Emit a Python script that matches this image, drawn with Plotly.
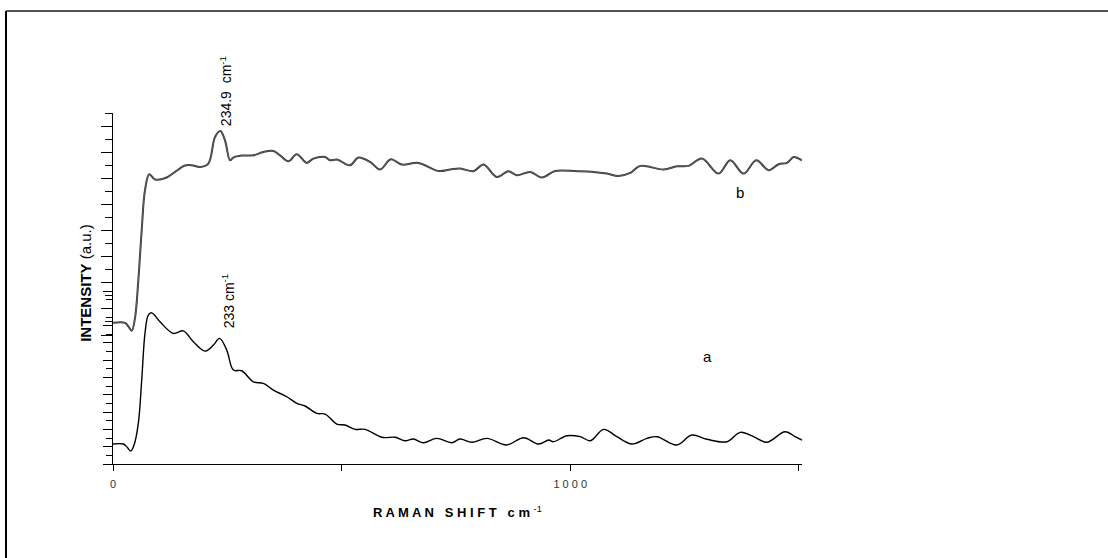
import plotly.graph_objects as go

# Raman shift (cm^-1) and intensities (a.u.)
a_shift = [0, 22.5, 30.6, 38.7, 46, 55.4, 62.8, 70.0, 77.2, 84.7, 102.8, 131.9, 153.8, 175.7,
           201.3, 219.5, 233, 248.8, 263.2, 281.6, 307, 328.9, 350.8, 380.1, 402, 420.1, 445.7,
           463.9, 489.5, 507.7, 529.5, 551.4, 588, 617, 639, 657, 679, 708, 741, 759, 785, 818,
           861, 898, 931, 953, 963, 993, 1022, 1044, 1073, 1102, 1135, 1168, 1190, 1233, 1266,
           1299, 1343, 1372, 1401, 1430, 1470, 1492, 1507]
a_int = [2.31, 2.31, 1.97, 1.50, 2.2, 4.71, 9.71, 15.14, 17.23, 17.49, 16.45, 15.11, 15.41, 14.14,
         13.06, 13.76, 14.53, 13.18, 10.87, 10.79, 9.51, 9.33, 8.55, 7.78, 7.02, 6.71, 5.86,
         5.78, 4.62, 4.51, 4.01, 4.01, 3.09, 3.09, 2.69, 2.89, 2.46, 2.97, 2.46, 2.89, 2.51, 2.97,
         2.20, 3.04, 2.31, 2.77, 2.58, 3.27, 3.16, 2.69, 4.01, 3.16, 2.31, 2.97, 3.16, 2.20, 3.35,
         2.86, 2.58, 3.66, 3.16, 2.51, 3.73, 3.16, 2.77]

b_shift = [0, 26.3, 33.9, 40.9, 48.1, 55.4, 62.8, 70.0, 79.4, 91.9, 117.5, 135.7, 157.5, 172.2,
           190.4, 208.5, 223.2, 234.9, 245, 256, 263.2, 281.6, 307, 328.9, 350.8, 365.4, 383.6,
           402, 423.9, 438.3, 463.9, 474.8, 489.5, 518.6, 536.8, 562.4, 584.2, 607.7, 631.7, 668,
           711.8, 737.4, 759.3, 788.4, 810.3, 839.6, 865, 883.4, 912.5, 938.1, 967.2, 1014.7, 1051,
           1080.3, 1105.7, 1131.3, 1153.2, 1204.2, 1233.5, 1258.9, 1288.2, 1324.5, 1350.1, 1379.2,
           1407, 1434, 1455.8, 1474.2, 1488.6, 1499.6, 1507]
b_int = [0.93, 0.93, 0.64, 0.32, 1.29, 4.20, 8.03, 11.09, 12.31, 11.91, 12.06, 12.49, 12.98, 13.00,
         12.87, 13.13, 15.16, 15.62, 14.91, 13.38, 13.59, 13.74, 13.76, 14.02, 14.09, 13.76, 13.31,
         13.84, 13.18, 13.51, 13.63, 13.38, 13.44, 13.00, 13.59, 13.25, 12.67, 13.46, 13.05, 13.18,
         12.56, 12.67, 12.75, 12.54, 13.05, 12.10, 12.54, 12.23, 12.49, 12.06, 12.56, 12.54, 12.49,
         12.36, 12.18, 12.41, 12.95, 12.67, 12.92, 12.95, 13.51, 12.36, 13.38, 12.36, 13.38, 12.62,
         13.08, 13.18, 13.63, 13.51, 13.38]

x_tickvals = [0, 500, 1000, 1500]
x_ticktext = ["0", "", "1 0 0 0", ""]

peak_a = 233
peak_b = 234.9

FONT = "Liberation Sans, Arial, sans-serif"

fig = go.Figure()
fig.add_trace(go.Scatter(x=a_shift, y=a_int, mode="lines", line=dict(color="black", width=1.4, shape="spline"),
                         yaxis="y", showlegend=False))
fig.add_trace(go.Scatter(x=b_shift, y=b_int, mode="lines", line=dict(color="#333333", width=2.0, shape="spline"),
                         yaxis="y2", showlegend=False))
fig.add_trace(go.Scatter(x=b_shift, y=b_int, mode="lines", line=dict(color="#8a8a8a", width=0.5, shape="spline"),
                         yaxis="y2", showlegend=False))

fig.update_layout(
    width=1108, height=558,
    margin=dict(l=113, r=306, t=113, b=94),
    paper_bgcolor="white", plot_bgcolor="rgba(0,0,0,0)",
    font=dict(family=FONT, color="black"),
    xaxis=dict(range=[0, 1507], showgrid=False, zeroline=False, showline=True, linecolor="black",
               linewidth=1.2, ticks="outside", ticklen=6, tickcolor="black", tickvals=x_tickvals,
               ticktext=x_ticktext, tickfont=dict(size=11, color="#333"), ticklabelstandoff=4,
               anchor="y"),
    yaxis=dict(domain=[0, 0.4925], range=[0, 20], showgrid=False, zeroline=False, showline=True,
               linecolor="black", linewidth=1.2, ticks="outside", ticklen=9, tickcolor="black",
               tickvals=list(range(0, 21, 2)), showticklabels=False,
               minor=dict(tickvals=list(range(1, 20, 2)), ticklen=6, ticks="outside", tickcolor="black"),
               anchor="x"),
    yaxis2=dict(domain=[0.3675, 1], range=[0, 17], showgrid=False, zeroline=False, showline=True,
                linecolor="black", linewidth=1.2, ticks="outside", ticklen=11, tickcolor="black",
                tickvals=list(range(0, 17, 2)), showticklabels=False,
                minor=dict(tickvals=list(range(1, 18, 2)), ticklen=7, ticks="outside", tickcolor="black"),
                anchor="x"),
    annotations=[
        dict(x=peak_b + 12, y=15.83, xref="x", yref="y2", text="234.9  cm<sup>-1</sup>", textangle=-90,
             showarrow=False, xanchor="center", yanchor="bottom", font=dict(size=14, family=FONT)),
        dict(x=peak_a + 18, y=15.49, xref="x", yref="y", text="233 cm<sup>-1</sup>", textangle=-90,
             showarrow=False, xanchor="center", yanchor="bottom", font=dict(size=14, family=FONT)),
        dict(x=1372, y=10.93, xref="x", yref="y2", text="b", showarrow=False,
             font=dict(size=15, family=FONT)),
        dict(x=1300, y=12.49, xref="x", yref="y", text="a", showarrow=False,
             font=dict(size=15, family=FONT)),
        dict(x=-0.055, y=0.515, xref="paper", yref="paper", text="<b>INTENSITY</b> (a.u.)", textangle=-90,
             showarrow=False, font=dict(size=15, family=FONT)),
        dict(x=0.4993, y=-0.165, xref="paper", yref="paper",
             text="<b>R A M A N   S H I F T   c m</b> <sup>-1</sup>", showarrow=False,
             font=dict(size=13, family=FONT)),
    ],
    shapes=[
        dict(type="line", xref="paper", yref="paper", x0=-0.1553, x1=1.5, y0=1.2906, y1=1.2906,
             line=dict(color="#555", width=2)),
        dict(type="line", xref="paper", yref="paper", x0=-0.1553, x1=-0.1553, y0=-0.4, y1=1.2906,
             line=dict(color="black", width=2)),
    ],
)

fig.write_html("out.html")
